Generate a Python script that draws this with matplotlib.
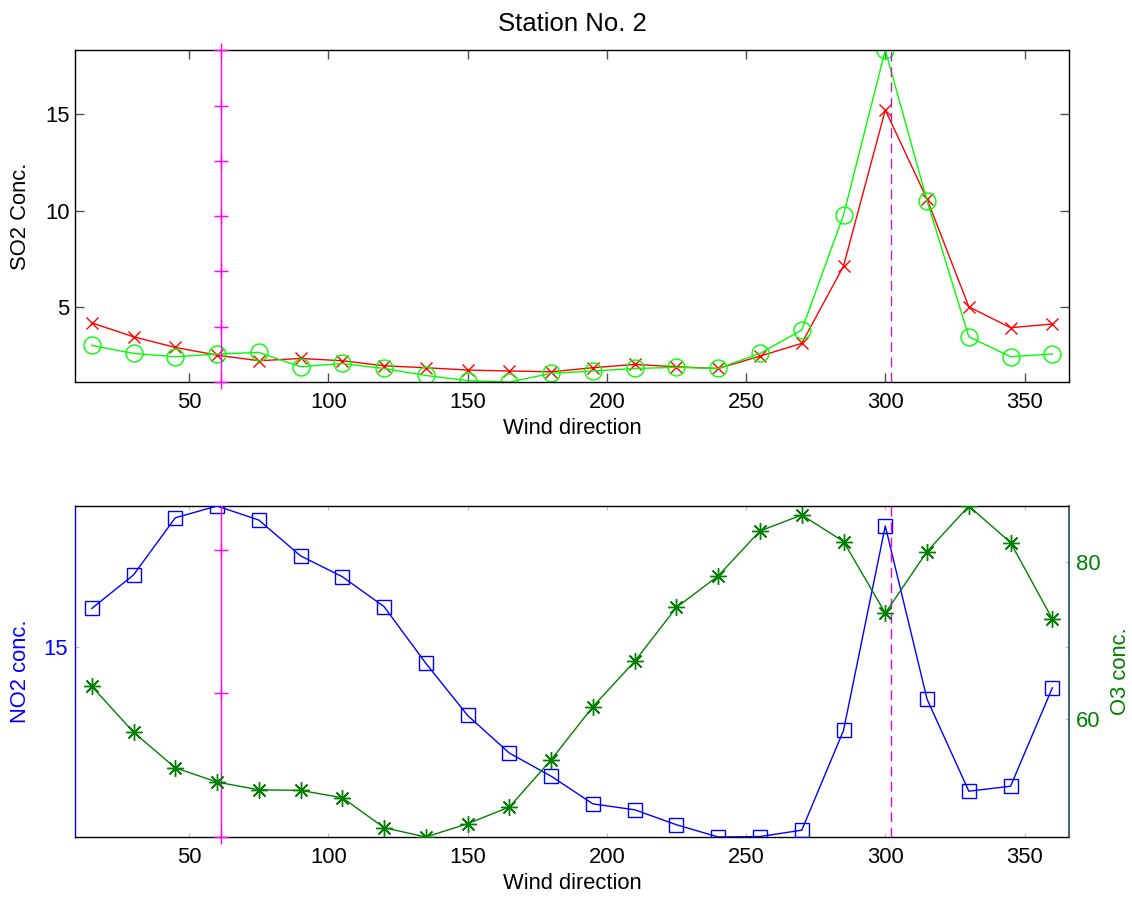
import matplotlib
matplotlib.use("Agg")
import matplotlib.pyplot as plt
from matplotlib.ticker import MultipleLocator

plt.rcParams['font.family'] = ['Liberation Sans', 'DejaVu Sans']

# ---------------- data ----------------
wind_dir = [15, 30, 45, 60, 75, 90, 105, 120, 135, 150, 165, 180,
            195, 210, 225, 240, 255, 270, 285, 300, 315, 330, 345, 360]

so2_a = [4.20, 3.48, 2.93, 2.53, 2.24, 2.36, 2.24, 1.98, 1.88, 1.76, 1.71, 1.67,
         1.88, 2.05, 1.93, 1.84, 2.48, 3.14, 7.14, 15.21, 10.60, 5.03, 3.95, 4.14]
so2_b = [3.03, 2.62, 2.45, 2.59, 2.67, 1.93, 2.10, 1.84, 1.48, 1.21, 1.14, 1.59,
         1.71, 1.84, 1.90, 1.84, 2.62, 3.83, 9.78, 18.31, 10.52, 3.48, 2.45, 2.59]

no2 = [15.84, 16.58, 17.84, 18.10, 17.79, 17.00, 16.54, 15.88, 14.63, 13.48, 12.65, 12.14,
       11.53, 11.40, 11.07, 10.80, 10.81, 10.95, 13.15, 17.66, 13.84, 11.81, 11.92, 14.09]
o3 = [64.15, 58.32, 53.79, 51.98, 51.00, 50.92, 49.99, 46.18, 45.00, 46.69, 48.81, 54.81,
      61.58, 67.33, 74.18, 78.19, 83.90, 85.93, 82.55, 73.46, 81.28, 87.07, 82.42, 72.70]

# reference lines
solid_dir = 61.4
dashed_dir = 302.0
solid_marks_top = [1.14, 4.00, 6.86, 9.72, 12.58, 15.44, 18.31]
solid_line_bottom = [10.80, 20.30]
solid_marks_bottom = [10.80, 13.97, 17.12]

xticks = [50, 100, 150, 200, 250, 300, 350]
x_limits = [9, 366]

title = "Station No. 2"
xlabel = "Wind direction"
ylabel_top = "SO2 Conc."
ylabel_left = "NO2 conc."
ylabel_right = "O3 conc."

# ---------------- figure ----------------
FS = 15.8
fig = plt.figure(figsize=(11.32, 8.97), dpi=100)
fig.patch.set_facecolor('white')

# ---- top panel ----
ax1 = fig.add_axes([0.0663, 0.5741, 0.8781, 0.3701])
ax1.plot(wind_dir, so2_a, color='#ff0000', lw=1.0, marker='x', ms=8.6, mew=1.0)
ax1.plot(wind_dir, so2_b, color='#00ff00', lw=1.0, marker='o', ms=12.2, mew=1.0,
         mfc='none')
ax1.plot([solid_dir] * len(solid_marks_top), solid_marks_top, color='#ff00ff',
         lw=1.0, marker='+', ms=9.5, mew=1.0, clip_on=False, zorder=4)
ylo1 = min(min(so2_a), min(so2_b))
yhi1 = max(max(so2_a), max(so2_b))
ax1.plot([dashed_dir, dashed_dir], [ylo1, yhi1], color='#c020c0', lw=1.0,
         linestyle=(0, (7, 4)))
ax1.set_xlim(x_limits)
ax1.set_ylim(ylo1, yhi1)
ax1.set_xticks(xticks)
ax1.yaxis.set_major_locator(MultipleLocator(5))
ax1.tick_params(direction='in', length=6.5, width=1.0, color='#505050',
                top=True, right=True, labelsize=FS, pad=7)
ax1.tick_params(axis='y', pad=4)
for s in ax1.spines.values():
    s.set_linewidth(1.0)
    s.set_color('black')
ax1.set_ylabel(ylabel_top, fontsize=FS)
ax1.yaxis.set_label_coords(-0.0553, 0.5)
ax1.yaxis.label.set_va('center')
ax1.yaxis.label.set_ha('center')
ax1.set_xlabel(xlabel, fontsize=FS)
ax1.xaxis.set_label_coords(0.5, -0.139)
ax1.xaxis.label.set_va('center')
ax1.text(0.5, 1.078, title, transform=ax1.transAxes, ha='center', va='center',
         fontsize=18.5)

# ---- bottom panel ----
ax2 = fig.add_axes([0.0663, 0.0669, 0.8781, 0.3690])
ax3 = ax2.twinx()
ax2.plot(wind_dir, no2, color='#0000ff', lw=1.0, marker='s', ms=10.6, mew=1.0,
         mfc='none', zorder=3)
ax2.plot([solid_dir, solid_dir], solid_line_bottom, color='#ff00ff', lw=1.0,
         zorder=4)
ax2.plot([solid_dir] * len(solid_marks_bottom), solid_marks_bottom, color='#ff00ff',
         lw=0, marker='+', ms=9.5, mew=1.0, clip_on=False, zorder=4)
ax3.plot(wind_dir, o3, color='#008000', lw=1.0, marker=(8, 2, 0), ms=12, mew=1.0,
         zorder=3)
ax3.plot([dashed_dir, dashed_dir], [min(o3), max(o3)], color='#ee00ee', lw=1.0,
         linestyle=(0, (7, 4)))

ax2.set_xlim(x_limits)
ax3.set_xlim(x_limits)
ax2.set_ylim(min(no2), max(no2))
ax3.set_ylim(min(o3), max(o3))
ax2.set_xticks(xticks)
ax2.yaxis.set_major_locator(MultipleLocator(5))
ax3.yaxis.set_major_locator(MultipleLocator(20))

ax2.tick_params(direction='in', length=3, width=0.8, color='#c0c0c0',
                top=True, right=True, labelsize=FS)
ax2.tick_params(axis='x', pad=7)
ax2.tick_params(axis='y', labelcolor='#0000ff', pad=5)
ax3.tick_params(direction='in', length=3, width=0.8, color='#c0c0c0',
                labelsize=FS, labelcolor='#008000', pad=5)

for name, s in ax2.spines.items():
    s.set_linewidth(1.0)
    s.set_color('black')
ax2.spines['left'].set_color('#0000ff')
ax2.spines['right'].set_visible(False)
for name in ['left', 'top', 'bottom']:
    ax3.spines[name].set_visible(False)
ax3.spines['right'].set_color('#1a4a5a')
ax3.spines['right'].set_linewidth(1.2)

ax2.set_ylabel(ylabel_left, fontsize=FS, color='#0000ff')
ax2.yaxis.set_label_coords(-0.0553, 0.5)
ax2.yaxis.label.set_va('center')
ax2.yaxis.label.set_ha('center')
ax3.set_ylabel(ylabel_right, fontsize=FS, color='#008000')
ax3.yaxis.set_label_coords(1.0513, 0.5)
ax3.yaxis.label.set_va('center')
ax3.yaxis.label.set_ha('center')
ax2.set_xlabel(xlabel, fontsize=FS)
ax2.xaxis.set_label_coords(0.5, -0.142)
ax2.xaxis.label.set_va('center')

fig.savefig('out.png', dpi=100, facecolor='white')
